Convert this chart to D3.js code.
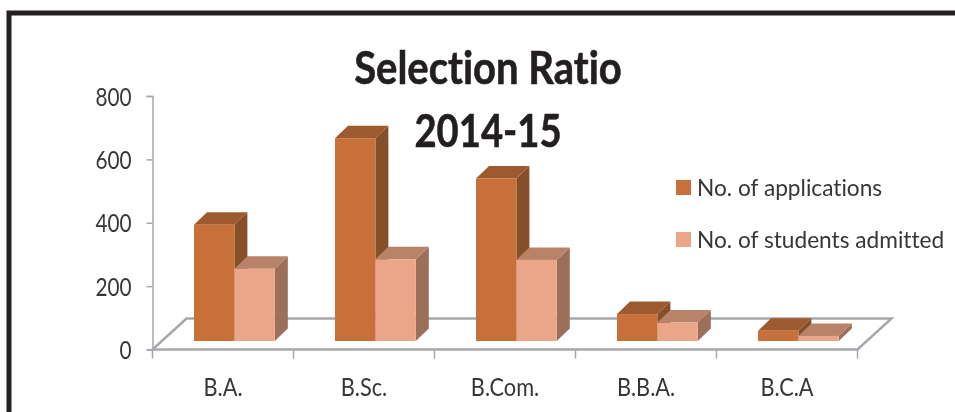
<!DOCTYPE html>
<html>
<head>
<meta charset="utf-8">
<script src="https://cdn.jsdelivr.net/npm/d3@7/dist/d3.min.js"></script>
<style>
html,body{margin:0;padding:0;background:#fff;overflow:hidden}
svg{display:block;filter:blur(.45px)}
text{font-family:Lato,"Open Sans",sans-serif;font-variant-ligatures:none}
</style>
</head>
<body>
<svg id="c" width="955" height="412"></svg>
<script>
const categories = ["B.A.", "B.Sc.", "B.Com.", "B.B.A.", "B.C.A"];
const applications = [367, 640, 513, 85, 32];
const admitted = [228, 258, 256, 58, 16];
const seriesNames = ["No. of applications", "No. of students admitted"];
const yTicks = [0, 200, 400, 600, 800];
const titleLines = ["Selection Ratio", "2014-15"];

const palette = [
  {front:"#C8703A", side:"#854F2A", top:"#9E5A2F"},
  {front:"#EBA589", side:"#9B6F5A", top:"#B9836A"}
];

const svg = d3.select("#c");
const axisColor = "#A6A8AC";
const textColor = "#36363a";

// frame
svg.append("path").attr("d","M9,412V13H955").attr("fill","none").attr("stroke","#231F20").attr("stroke-width",5);

const left = 152.5, right = 857.5, y0 = 349.5, y800 = 96;
const y = d3.scaleLinear().domain([0,800]).range([y0,y800]);
const x = d3.scaleBand().domain(categories).range([left,right]);
const pad = 41.5, barW = 40.4;       // band inset, single bar width
const floorDx = 34, floorDy = 31;    // floor depth
const baseLift = 8.5;                // bars stand on the floor
const depthX = 13, depthY = 12.5;    // bar depth

// floor
svg.append("path")
  .attr("d",`M${left},${y0}L${left+floorDx},${y0-floorDy}H${right+floorDx}L${right},${y0}Z`)
  .attr("fill","#fff").attr("stroke",axisColor).attr("stroke-width",2.5);

// y axis
const yAxis = d3.axisLeft(y).tickValues(yTicks).tickSize(6).tickPadding(15).tickFormat(d3.format("d"));
const gy = svg.append("g").attr("transform",`translate(${left},0)`).call(yAxis);
gy.select(".domain").attr("stroke",axisColor).attr("stroke-width",1.5);
gy.selectAll("line").attr("stroke",axisColor).attr("stroke-width",1.5);
gy.selectAll("text").attr("font-size",25).attr("fill",textColor)
  .attr("x",0).attr("dy","0.36em")
  .attr("transform","translate(-21,0) scale(.83,1)");

// x axis ticks at band edges
const edges = categories.map(c=>x(c)).concat([right]);
svg.append("g").selectAll("line").data(edges).join("line")
  .attr("x1",d=>d).attr("x2",d=>d).attr("y1",y0).attr("y2",y0+9)
  .attr("stroke",axisColor).attr("stroke-width",1.5);
svg.append("g").selectAll("text").data(categories).join("text")
  .attr("transform",c=>`translate(${x(c)+x.bandwidth()/2},396) scale(.87,1)`)
  .attr("text-anchor","middle").attr("font-size",25).attr("fill",textColor)
  .text(c=>c);

// 3-D bars
const series = [applications, admitted];
const bars = svg.append("g");
categories.forEach((c,i)=>{
  series.forEach((vals,s)=>{
    const xl = x(c)+pad+s*barW, xr = xl+barW;
    const b = y(0)-baseLift, t = y(vals[i])-baseLift;
    const g = bars.append("g");
    g.append("path").attr("fill",palette[s].side)
      .attr("d",`M${xr},${b}V${t}L${xr+depthX},${t-depthY}V${b-depthY}Z`);
    g.append("path").attr("fill",palette[s].top)
      .attr("d",`M${xl},${t}L${xl+depthX},${t-depthY}H${xr+depthX}L${xr},${t}Z`);
    g.append("rect").attr("x",xl).attr("y",t).attr("width",barW).attr("height",b-t).attr("fill",palette[s].front);
  });
});

// title
const titleScale = [0.87, 0.83];
svg.append("g").selectAll("text").data(titleLines).join("text")
  .attr("transform",(d,i)=>`translate(488,${84+i*63}) scale(${titleScale[i]},1)`)
  .attr("text-anchor","middle").attr("font-size",46).attr("font-weight",700)
  .attr("fill","#231F20").attr("stroke","#231F20").attr("stroke-width",0.6)
  .text(d=>d);

// legend
const lg = svg.append("g").selectAll("g").data(seriesNames).join("g")
  .attr("transform",(d,i)=>`translate(676,${180+i*52})`);
lg.append("rect").attr("width",15).attr("height",15).attr("fill",(d,i)=>palette[i].front);
lg.append("text").attr("transform","translate(21,15.5) scale(.965,1)").attr("font-size",23.5).attr("fill",textColor).text(d=>d);
</script>
</body>
</html>
